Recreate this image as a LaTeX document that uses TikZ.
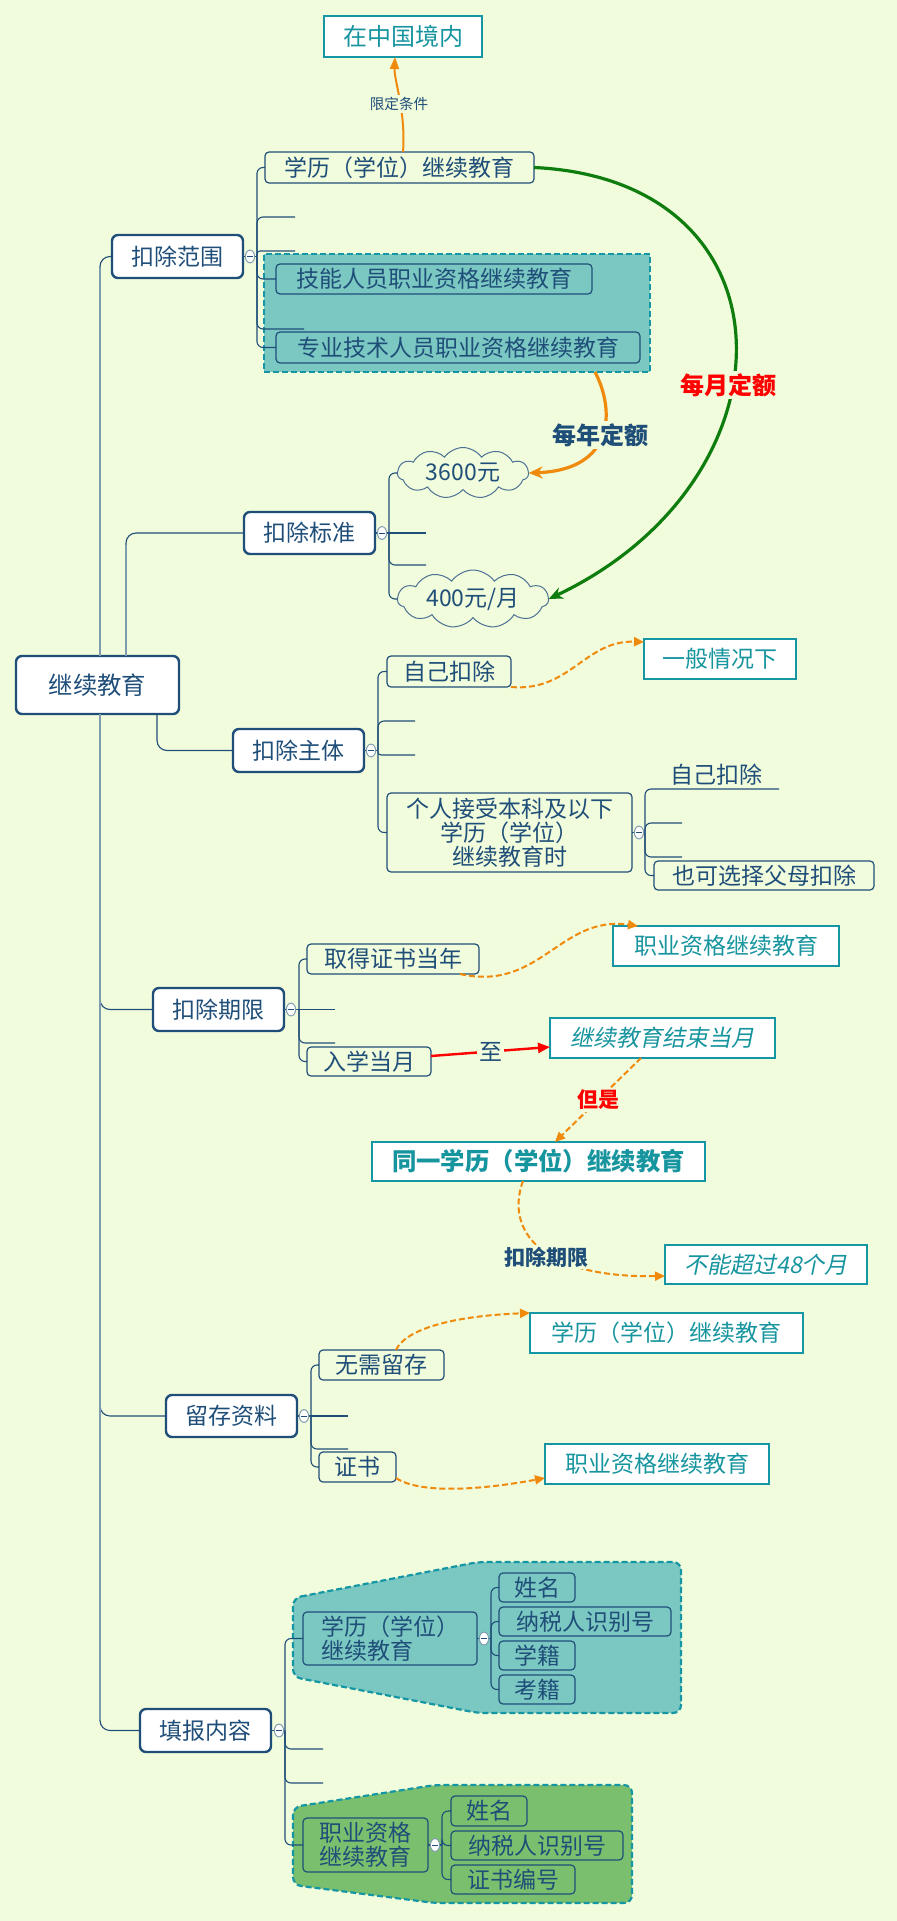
\documentclass[tikz,border=0pt]{standalone}
\usepackage{fontspec}
\setmainfont{Noto Sans CJK SC}
\newfontfamily\cjkit[FakeSlant=0.2]{Noto Sans CJK SC}
\usetikzlibrary{arrows.meta,shapes.geometric,shapes.symbols}
\definecolor{bg}{HTML}{F1FCDC}
\definecolor{dblue}{HTML}{1F4E79}
\definecolor{tealc}{HTML}{1596A5}
\definecolor{tealtxt}{HTML}{17959F}
\definecolor{tealfill}{HTML}{7BC8C2}
\definecolor{grfill}{HTML}{7ABF6E}
\definecolor{orng}{HTML}{F08A0C}
\definecolor{grn}{HTML}{0E7D0E}
\definecolor{trunkc}{HTML}{7F9CB0}
\newcommand\mybx[7]{%
 \pgfmathsetmacro\mybxcx{(#2+#4)/2}%
 \pgfmathsetmacro\mybxcy{(#3+#5)/2}%
 \pgfmathsetmacro\mybxw{(#4-#2)*0.5}%
 \pgfmathsetmacro\mybxh{(#5-#3)*0.5}%
 \node[#6, minimum width=\mybxw pt, minimum height=\mybxh pt] (#1) at (\mybxcx,\mybxcy) {#7};}
\tikzset{
 every node/.style={inner sep=0pt, outer sep=0pt, text=dblue, font=\fontsize{11.5}{12}\selectfont},
 topic/.style={draw=dblue, line width=1.2pt, rounded corners=3pt, fill=white},
 sub/.style={draw=dblue, line width=0.6pt, rounded corners=2pt},
 tbox/.style={draw=tealc, line width=0.7pt, fill=white, text=tealtxt},
 itf/.style={font=\cjkit\fontsize{11.5}{12}\selectfont},
 branch/.style={draw=dblue, line width=0.55pt, rounded corners=3pt},
 trunk/.style={draw=trunkc, line width=1.1pt},
 bnd/.style={draw=tealc, line width=1.1pt, dash pattern=on 3pt off 1.5pt, rounded corners=4pt},
 odash/.style={draw=orng, line width=1pt, dash pattern=on 3pt off 1.5pt, -{Triangle[length=5pt,width=4.5pt]}},
 collapse/.style={ellipse, draw=trunkc, fill=white, line width=0.5pt, minimum width=4.6pt, minimum height=6.4pt, inner sep=0pt,
   path picture={\draw[dblue, line width=0.5pt] ([xshift=-1.4pt]path picture bounding box.center) -- ([xshift=1.4pt]path picture bounding box.center);}},
 lbl/.style={fill=bg, inner sep=1pt},
 blbl/.style={lbl, font=\bfseries\fontsize{12}{13}\selectfont},
 cloudn/.style={cloud, cloud puffs=11, cloud puff arc=110, cloud ignores aspect, draw=dblue!80, line width=0.5pt},
}
\begin{document}
\begin{tikzpicture}[x=0.5pt,y=-0.5pt]
\useasboundingbox (0,0) rectangle (897,1921);
\fill[bg] (0,0) rectangle (897,1921);
% boundaries
\mybx{bnd1}{264}{254}{650}{372}{bnd, rounded corners=0pt, fill=tealfill}{}
\draw[bnd, fill=tealfill] (293,1598) -- (478,1562) -- (681,1562) -- (681,1713) -- (478,1713) -- (293,1677) -- cycle;
\draw[bnd, fill=grfill] (293,1807) -- (435,1785) -- (632,1785) -- (632,1903) -- (435,1903) -- (293,1885) -- cycle;
% nodes
\mybx{zgjn}{324}{16}{482}{57}{tbox, font=\fontsize{12}{13}\selectfont}{在中国境内}
\mybx{xl1}{265}{152}{534}{183}{sub}{学历（学位）继续教育}
\mybx{kcfw}{112}{235}{243}{278}{topic}{扣除范围}
\mybx{jn}{276}{264}{592}{294}{sub}{技能人员职业资格继续教育}
\mybx{zy}{276}{332}{640}{363}{sub}{专业技术人员职业资格继续教育}
\node[cloudn, minimum width=65.5pt, minimum height=25.5pt] (c1) at (463,473) {3600元};
\mybx{kcbz}{244}{512}{375}{554}{topic}{扣除标准}
\node[cloudn, minimum width=75.5pt, minimum height=29pt] (c2) at (473,599) {400元/月};
\mybx{root}{16}{656}{179}{714}{topic, font=\fontsize{12.2}{13}\selectfont}{继续教育}
\mybx{yb}{644}{639}{796}{679}{tbox}{一般情况下}
\mybx{zj1}{387}{656}{511}{687}{sub}{自己扣除}
\mybx{kczt}{233}{729}{364}{772}{topic}{扣除主体}
\mybx{gr}{387}{793}{632}{872}{sub, align=center}{个人接受本科及以下\\学历（学位）\\继续教育时}
\mybx{zj2}{653}{760}{779}{789}{}{自己扣除}
\mybx{fm}{654}{861}{874}{890}{sub}{也可选择父母扣除}
\mybx{zyzg1}{613}{926}{839}{966}{tbox}{职业资格继续教育}
\mybx{qd}{307}{944}{479}{974}{sub}{取得证书当年}
\mybx{kcqx}{153}{988}{284}{1031}{topic}{扣除期限}
\mybx{rx}{307}{1047}{431}{1076}{sub}{入学当月}
\mybx{js}{550}{1018}{775}{1058}{tbox, itf}{继续教育结束当月}
\mybx{ty}{372}{1142}{705}{1181}{tbox, font=\bfseries\fontsize{12.2}{13}\selectfont}{同一学历（学位）继续教育}
\mybx{bn}{665}{1245}{867}{1284}{tbox, itf}{不能超过48个月}
\mybx{xl2}{530}{1313}{803}{1353}{tbox}{学历（学位）继续教育}
\mybx{wx}{319}{1350}{444}{1380}{sub}{无需留存}
\mybx{lczl}{166}{1395}{297}{1437}{topic}{留存资料}
\mybx{zs}{319}{1452}{396}{1482}{sub}{证书}
\mybx{zyzg2}{545}{1444}{769}{1484}{tbox}{职业资格继续教育}
\mybx{xl3}{303}{1612}{477}{1665}{sub, align=left}{学历（学位）\\继续教育}
\mybx{xm1}{499}{1573}{575}{1602}{sub}{姓名}
\mybx{ns1}{499}{1607}{671}{1636}{sub}{纳税人识别号}
\mybx{xj}{499}{1641}{575}{1670}{sub}{学籍}
\mybx{kj}{499}{1675}{575}{1704}{sub}{考籍}
\mybx{tbnr}{140}{1709}{271}{1752}{topic}{填报内容}
\mybx{zy3}{303}{1818}{428}{1872}{sub, align=center}{职业资格\\继续教育}
\mybx{xm2}{451}{1796}{527}{1826}{sub}{姓名}
\mybx{ns2}{451}{1831}{623}{1860}{sub}{纳税人识别号}
\mybx{zsbh}{451}{1865}{575}{1894}{sub}{证书编号}
% coordinates
\coordinate (t1) at (100,0); \coordinate (t2) at (126,0); \coordinate (t3) at (157,0);
\coordinate (vA) at (257,256.5); \coordinate (sA1) at (295,217); \coordinate (sA2) at (295,251); \coordinate (sA3) at (304,329);
\coordinate (vB) at (389,533); \coordinate (sB1) at (426,533); \coordinate (sB2) at (426,565);
\coordinate (vC) at (378,750.5); \coordinate (sC1) at (415,721); \coordinate (sC2) at (415,755);
\coordinate (vD) at (645,832.5); \coordinate (sD1) at (682,823); \coordinate (sD2) at (682,857);
\coordinate (vE) at (299,1009.5); \coordinate (sE1) at (335,1009.5); \coordinate (sE2) at (335,1043);
\coordinate (vF) at (311,1416); \coordinate (sF1) at (348,1416); \coordinate (sF2) at (348,1449);
\coordinate (vG) at (285,1730.5); \coordinate (sG1) at (323,1749); \coordinate (sG2) at (323,1783);
\coordinate (vH) at (491,1638.5);
\coordinate (vI) at (442,1845);
% trunk connectors
\draw[branch, rounded corners=5pt] (root.north -| t1) |- (kcfw.west);
\draw[branch, rounded corners=5pt] (root.north -| t2) |- (kcbz.west);
\draw[branch, rounded corners=5pt] (root.south -| t3) |- (kczt.west);
\draw[branch, rounded corners=5pt] (root.south -| t1) |- (kcqx.west);
\draw[branch, rounded corners=5pt] (root.south -| t1) |- (lczl.west);
\draw[branch, rounded corners=5pt] (root.south -| t1) |- (tbnr.west);
\draw[trunk] (root.north -| t1) -- (100,268);
\draw[trunk] (root.north -| t2) -- (126,545);
\draw[trunk] (root.south -| t1) -- (100,1720);
% branch A
\draw[branch] (kcfw.east) -- (vA);
\draw[branch] (vA) |- (xl1.west);
\draw[branch] (vA) |- (sA1);
\draw[branch, rounded corners=1.5pt] (vA) |- (sA2);
\draw[branch] (vA) |- (jn.west);
\draw[branch] (vA) |- (sA3);
\draw[branch] (vA) |- (zy.west);
% branch B
\draw[branch] (kcbz.east) -- (vB);
\draw[branch] (vB) |- (c1.west);
\draw[branch] (vB) -- (sB1);
\draw[branch] (vB) |- (sB2);
\draw[branch] (vB) |- (c2.west);
% branch C
\draw[branch] (kczt.east) -- (vC);
\draw[branch] (vC) |- (zj1.west);
\draw[branch] (vC) |- (sC1);
\draw[branch, rounded corners=1.5pt] (vC) |- (sC2);
\draw[branch] (vC) |- (gr.west);
% branch D
\draw[branch] (gr.east) -- (vD);
\draw[branch] (vD) |- (zj2.south east);
\draw[branch] (vD) |- (sD1);
\draw[branch] (vD) |- (sD2);
\draw[branch] (vD) |- (fm.west);
% branch E
\draw[branch] (kcqx.east) -- (vE);
\draw[branch] (vE) |- (qd.west);
\draw[branch] (vE) -- (sE1);
\draw[branch] (vE) |- (sE2);
\draw[branch] (vE) |- (rx.west);
% branch F
\draw[branch] (lczl.east) -- (vF);
\draw[branch] (vF) |- (wx.west);
\draw[branch] (vF) -- (sF1);
\draw[branch] (vF) |- (sF2);
\draw[branch] (vF) |- (zs.west);
% branch G
\draw[branch] (tbnr.east) -- (vG);
\draw[branch] (vG) |- (xl3.west);
\draw[branch] (vG) |- (sG1);
\draw[branch] (vG) |- (sG2);
\draw[branch] (vG) |- (zy3.west);
% branch H
\draw[branch] (xl3.east) -- (vH);
\draw[branch] (vH) |- (xm1.west);
\draw[branch] (vH) |- (ns1.west);
\draw[branch] (vH) |- (xj.west);
\draw[branch] (vH) |- (kj.west);
% branch I
\draw[branch] (zy3.east) -- (vI);
\draw[branch] (vI) |- (xm2.west);
\draw[branch] (vI) |- (ns2.west);
\draw[branch] (vI) |- (zsbh.west);
% collapse markers
\node[collapse] (oA) at (250,256.5) {};
\node[collapse] (oB) at (382,533) {};
\node[collapse] (oC) at (371,750.5) {};
\node[collapse] (oD) at (639,832.5) {};
\node[collapse] (oE) at (291,1009.5) {};
\node[collapse] (oF) at (304,1416) {};
\node[collapse] (oG) at (279,1730.5) {};
\node[collapse] (oH) at (484,1638.5) {};
\node[collapse] (oI) at (435,1845) {};
% relationship arrows
\draw[orng, line width=1pt, -{Triangle[length=6pt,width=4.5pt]}] ([xshift=1.75pt]xl1.north) .. controls (406,112) and (394,80) .. ([xshift=-4pt]zgjn.south);
\node[lbl, font=\fontsize{7.3}{8}\selectfont] (lb1) at (399,104) {限定条件};
\draw[grn, line width=1.6pt, -{Stealth[length=7pt,width=6pt]}] (xl1.east) .. controls (800,180) and (800,480) .. (c2.east);
\node[blbl, text=red] (lb2) at (728,385) {每月定额};
\draw[orng, line width=1.6pt, -{Stealth[length=7pt,width=6pt]}] ([xshift=69pt]bnd1.south) .. controls (615,410) and (615,470) .. (c1.east);
\node[blbl] (lb3) at (600,435) {每年定额};
\draw[odash] (zj1.south east) .. controls (570,692) and (585,640) .. ([yshift=-1.5pt]yb.north west);
\draw[odash] ([xshift=-9.5pt]qd.south east) .. controls (540,992) and (560,915) .. ([xshift=12.5pt]zyzg1.north west);
\draw[red, line width=1.2pt, -{Triangle[length=6pt,width=5pt]}] ([yshift=2.75pt]rx.east) -- node[lbl] (lb4) {至} ([yshift=-4.5pt]js.west);
\draw[odash] ([xshift=-10.75pt]js.south) -- node[blbl, text=red, font=\bfseries\fontsize{10.5}{12}\selectfont] (lb5) {但是} ([xshift=8.25pt]ty.north);
\draw[odash] ([xshift=-7.75pt]ty.south) .. controls (505,1230) and (540,1278) .. ([yshift=-5.75pt]bn.west);
\node[blbl, font=\bfseries\fontsize{10.5}{12}\selectfont] (lb6) at (546,1257) {扣除期限};
\draw[odash] ([xshift=7.25pt]wx.north) .. controls (405,1330) and (450,1316) .. (xl2.north west);
\draw[odash] ([yshift=-5.5pt]zs.east) .. controls (420,1494) and (480,1490) .. ([yshift=-7pt]zyzg2.west);
\end{tikzpicture}
\end{document}
